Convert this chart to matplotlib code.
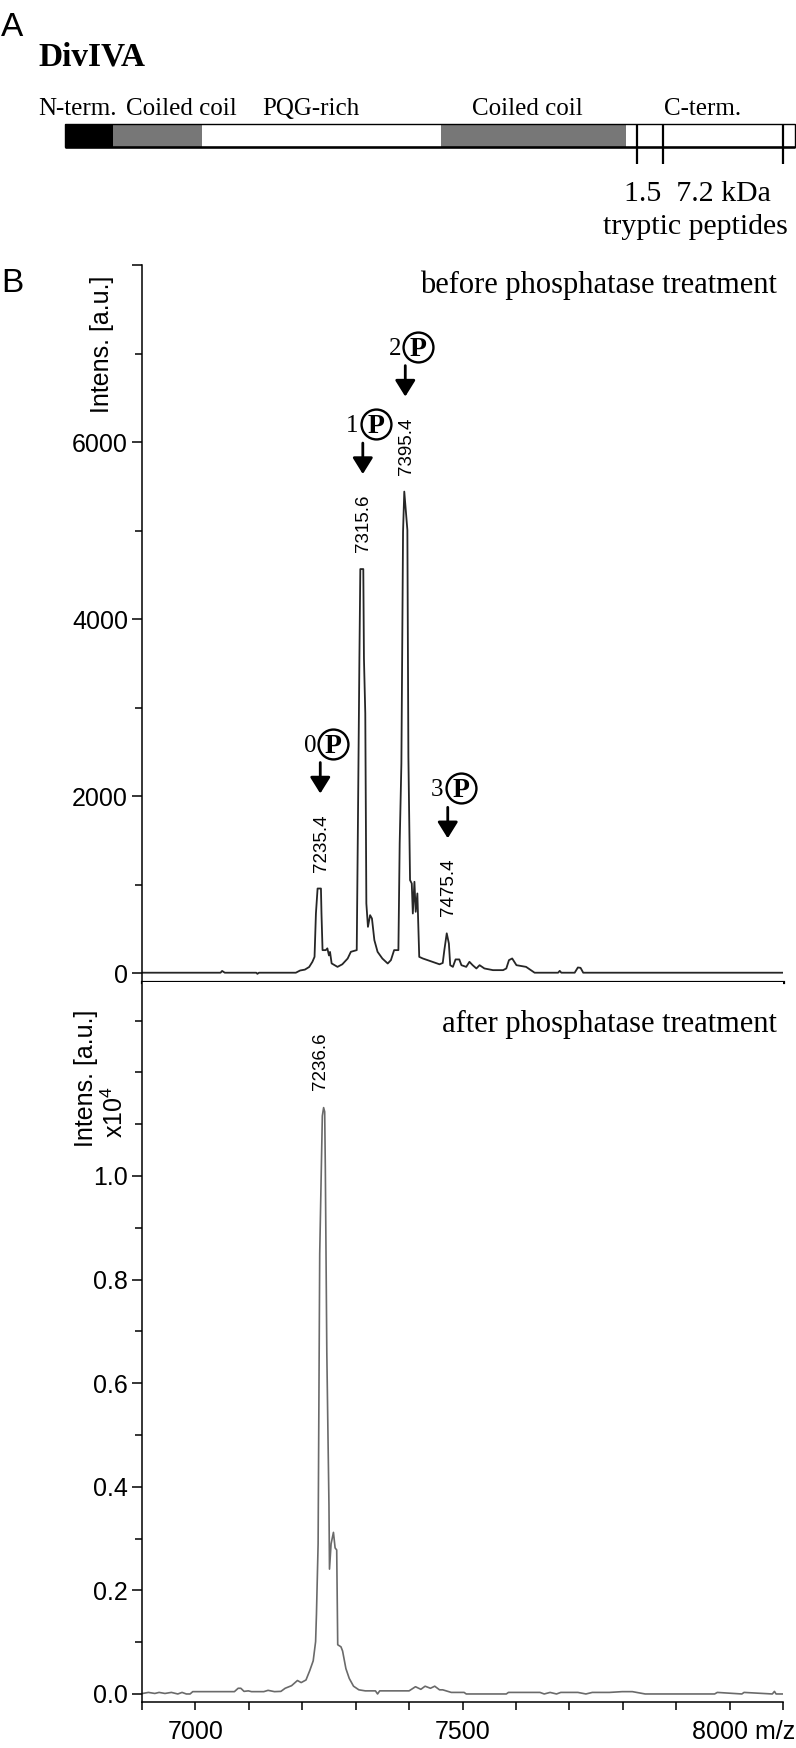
import numpy as np
import matplotlib
matplotlib.use("Agg")
import matplotlib.pyplot as plt
from matplotlib.transforms import offset_copy

plt.rcParams['font.family'] = 'Liberation Sans'
plt.rcParams['mathtext.default'] = 'regular'

W, H = 796, 1748
SERIF = 'Liberation Serif'

# panel A: DivIVA domain map (bar units ~ residues)
domain_edges = [0, 17, 49, 134, 200, 260]
domain_colors = ['black', '#777777', 'white', '#777777', 'white']
domain_names = ['N-term.', 'Coiled coil', 'PQG-rich', 'Coiled coil', 'C-term.']
cut_sites = [204, 213, 256]

# panel B, before phosphatase treatment (intensity a.u.)
mz_before = [6900, 7047, 7050, 7055, 7114, 7116, 7119, 7188, 7196, 7205, 7213, 7219,
             7223, 7225.6, 7228.7, 7235, 7236, 7238, 7244, 7247, 7250, 7252, 7255,
             7266, 7275, 7285, 7291, 7302, 7304, 7307, 7308.7, 7314.3, 7315.5, 7318,
             7320, 7323, 7327, 7330.5, 7335, 7341, 7350, 7360, 7366, 7372, 7380,
             7382.4, 7385.6, 7388.7, 7391, 7394.3, 7396.8, 7398.7, 7401.8, 7405,
             7407, 7410, 7412.4, 7415.5, 7419, 7426, 7438, 7457, 7463, 7466, 7470.5,
             7474.5, 7477, 7482, 7487, 7494, 7498, 7507, 7513, 7519, 7526, 7532,
             7541, 7557, 7576, 7582, 7587, 7593, 7601, 7619, 7635, 7679, 7682, 7685,
             7710, 7716, 7721, 7726, 8100]
int_before = [5, 5, 25, 5, 5, -8, 5, 5, 30, 40, 70, 128,
              184, 674, 956, 956, 674, 260, 260, 280, 200, 240, 110,
              71, 100, 165, 241, 260, 1540, 3556, 4565, 4565, 3556, 2934,
              787, 523, 655, 617, 373, 241, 165, 109, 147, 260, 260,
              1465, 2369, 4987, 5440, 5194, 5006, 2444, 1051, 1013,
              674, 1032, 693, 900, 184, 165, 140, 100, 115, 260, 450,
              335, 90, 71, 155, 155, 90, 71, 128, 90, 53, 90,
              53, 34, 34, 53, 147, 166, 90, 71, 5, 5, 26, 5,
              5, 64, 60, 5, 5]

# panel B, after phosphatase treatment (intensity x10^4 a.u.)
mz_after = [6896, 6912, 6924, 6932, 6943, 6955, 6967, 6975, 6983, 6990, 6995, 7073,
            7080, 7085, 7091, 7099, 7105, 7128, 7136, 7148, 7160, 7168, 7180, 7191,
            7198, 7207, 7214, 7220.5, 7225, 7226.6, 7229.7, 7232.7, 7235.8, 7237.6,
            7240, 7242, 7243.2, 7246, 7250, 7251, 7254, 7258.4, 7261.5, 7264.5,
            7266.4, 7272.5, 7275.5, 7281.7, 7288, 7296, 7306, 7318, 7337, 7341,
            7345, 7400, 7412, 7422, 7430, 7440, 7448, 7457, 7463, 7479, 7503, 7507,
            7582, 7586, 7645, 7653, 7664, 7676, 7684, 7716, 7731, 7743, 7775, 7799,
            7818, 7826, 7842, 7972, 7977, 8023, 8027, 8080, 8084, 8087, 8100]
int_after = [0.0, 0.003, 0.001, 0.003, 0.001, 0.003, 0.0, 0.003, 0.0, 0.0, 0.0045, 0.0045,
             0.011, 0.011, 0.005, 0.006, 0.0045, 0.0045, 0.007, 0.0045, 0.005, 0.011, 0.016, 0.026,
             0.022, 0.027, 0.045, 0.064, 0.101, 0.154, 0.290, 0.850, 1.019, 1.116,
             1.132, 1.124, 1.015, 0.658, 0.365, 0.241, 0.290, 0.312, 0.282, 0.278,
             0.095, 0.091, 0.083, 0.049, 0.030, 0.015, 0.008, 0.006, 0.006, 0.0,
             0.006, 0.006, 0.014, 0.009, 0.015, 0.011, 0.015, 0.008, 0.008, 0.003, 0.003, 0.0,
             0.0, 0.003, 0.003, 0.0, 0.003, 0.0, 0.003, 0.003, 0.0, 0.003, 0.003, 0.0045,
             0.0045, 0.003, 0.0, 0.0, 0.003, 0.0, 0.003, 0.0, 0.005, 0.0, 0.0]

peaks_before = [7235.4, 7315.6, 7395.4, 7475.4]
n_phospho = ['0', '1', '2', '3']
peak_after = 7236.6

top_yticks = [0, 2000, 4000, 6000, 8000]
top_ylabels = ['0', '2000', '4000', '6000', '']
bot_yticks = [0.0, 0.2, 0.4, 0.6, 0.8, 1.0]
bot_ylabels = ['0.0', '0.2', '0.4', '0.6', '0.8', '1.0']
mz_ticks = [7000, 7500]
mz_labels = ['7000', '7500']


def fx(x):
    return x / W


def fy(y):
    return 1 - y / H


def box(l, t, r, b):
    return [fx(l), fy(b), (r - l) / W, (b - t) / H]


def shifted(ax, dx, dy):
    return offset_copy(ax.transData, fig=fig, x=dx, y=dy, units='dots')


def peak_top(mz, inten, center, win=10):
    mz = np.asarray(mz, float)
    inten = np.asarray(inten, float)
    sel = np.abs(mz - center) < win
    top = inten[sel].max()
    return mz[sel][inten[sel] == top].mean(), top


fig = plt.figure(figsize=(W / 100, H / 100), dpi=100)

# ---------------- panel A
fig.text(fx(1), fy(12), 'A', ha='left', va='top', size=24)
fig.text(fx(38), fy(65), 'DivIVA', ha='left', va='baseline', size=24,
         family=SERIF, weight='bold')
for name, left in zip(domain_names, [38, 126, 262, 472, 664]):
    fig.text(fx(left), fy(115), name, ha='left', va='baseline', size=18, family=SERIF)

axA = fig.add_axes(box(65, 124, 794.5, 170))
axA.set_xlim(domain_edges[0], domain_edges[-1])
axA.set_ylim(-1, 1)
axA.axis('off')
lefts = domain_edges[:-1]
widths = np.diff(domain_edges)
axA.barh(0.5, widths, left=lefts, height=1, color=domain_colors, edgecolor='none')
axA.barh(0.5, domain_edges[-1], left=0, height=1, fill=False, edgecolor='black',
         lw=1.0, clip_on=False)
axA.hlines(0, domain_edges[0], domain_edges[-1], color='black', lw=1.8, clip_on=False)
axA.vlines(cut_sites, -0.74, 1, color='black', lw=1.6, clip_on=False)

fig.text(fx(624), fy(201), '1.5  7.2 kDa', ha='left', va='baseline', size=21.5,
         family=SERIF)
fig.text(fx(603), fy(234), 'tryptic peptides', ha='left', va='baseline', size=21.5,
         family=SERIF)

# ---------------- panel B
fig.text(fx(1), fy(268), 'B', ha='left', va='top', size=24)

axT = fig.add_axes(box(142, 265, 783, 982))
axB = fig.add_axes(box(142, 982, 783, 1702))

axT.plot(mz_before, int_before, color='#262626', lw=1.3)
axT.set_xlim(6900, 8100)
axT.set_ylim(-100, 8000)
axT.spines[['top', 'right']].set_visible(False)
axT.spines['bottom'].set_linewidth(2.3)
axT.spines['left'].set_linewidth(1.1)
axT.tick_params(axis='x', bottom=False, labelbottom=False)
axT.set_yticks(top_yticks)
axT.set_yticklabels(top_ylabels)
axT.set_yticks([1000, 3000, 5000, 7000], minor=True)
axT.tick_params(axis='y', which='major', length=7, width=1.1, pad=3, labelsize=18)
axT.tick_params(axis='y', which='minor', length=5, width=1.1)

axB.plot(mz_after, int_after, color='#6a6a6a', lw=1.2)
axB.set_xlim(6900, 8100)
axB.set_ylim(-0.0155, 1.3745)
axB.spines[['top', 'right']].set_visible(False)
axB.spines['bottom'].set_linewidth(1.1)
axB.spines['left'].set_linewidth(1.1)
axB.set_yticks(bot_yticks)
axB.set_yticklabels(bot_ylabels)
axB.set_yticks(np.arange(1, 14) / 10, minor=True)
axB.tick_params(axis='y', which='major', length=7, width=1.1, pad=3, labelsize=18)
axB.tick_params(axis='y', which='minor', length=5, width=1.1)
axB.set_xticks(mz_ticks + [8000])
axB.set_xticklabels(mz_labels + [''])
axB.set_xticks(np.arange(6900, 8101, 100), minor=True)
axB.tick_params(axis='x', which='both', length=6, width=1.1, pad=7, labelsize=18)
fig.text(fx(795), fy(1720), '8000 m/z', ha='right', va='top', size=18)

# y labels
fig.text(fx(102), fy(413), 'Intens. [a.u.]', rotation=90, ha='center', va='bottom', size=18)
fig.text(fx(86), fy(1147), 'Intens. [a.u.]', rotation=90, ha='center', va='bottom', size=18)
fig.text(fx(115), fy(1138), 'x10$^4$', rotation=90, ha='center', va='bottom', size=18)

fig.text(fx(777), fy(293), 'before phosphatase treatment', ha='right', va='baseline',
         size=22, family=SERIF)
fig.text(fx(777), fy(1032), 'after phosphatase treatment', ha='right', va='baseline',
         size=22, family=SERIF)

# peak annotations, before
for m, n in zip(peaks_before, n_phospho):
    xp, yp = peak_top(mz_before, int_before, m)
    axT.text(xp, yp, f'{m:.1f}', rotation=90, ha='center', va='bottom', size=13.5,
             transform=shifted(axT, 2, 17), clip_on=False)
    axT.annotate('', xy=(xp, yp), xycoords=shifted(axT, 1, 95),
                 xytext=(0, 31), textcoords='offset pixels',
                 arrowprops=dict(arrowstyle='-|>,head_length=0.45,head_width=0.28',
                                 color='black', lw=2, shrinkA=0, shrinkB=0,
                                 mutation_scale=22),
                 annotation_clip=False)
    axT.plot([xp], [yp], marker='o', ms=21.5, mfc='white', mec='black', mew=1.7,
             transform=shifted(axT, 14, 145), clip_on=False)
    axT.text(xp, yp, 'P', ha='center', va='baseline', size=20, family=SERIF,
             weight='bold', transform=shifted(axT, 14, 136), clip_on=False)
    axT.text(xp, yp, n, ha='right', va='baseline', size=18, family=SERIF,
             transform=shifted(axT, -3, 137), clip_on=False)

# peak annotation, after
xp, yp = peak_top(mz_after, int_after, peak_after)
axB.text(xp, yp, f'{peak_after:.1f}', rotation=90, ha='center', va='bottom', size=13.5,
         transform=shifted(axB, -3, 18), clip_on=False)

fig.savefig('out.png', dpi=100)
